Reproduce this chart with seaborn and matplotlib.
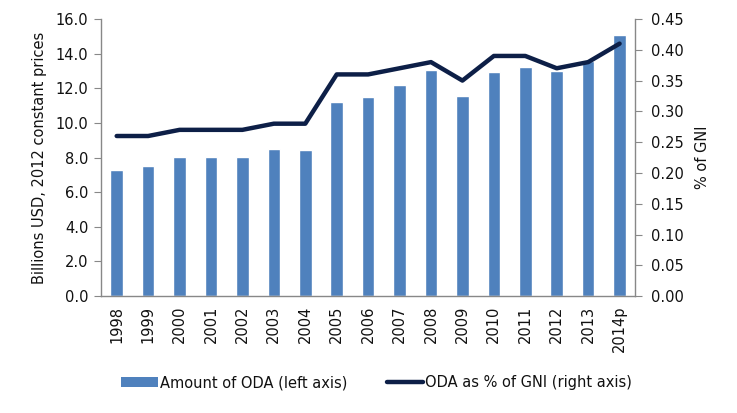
import numpy as np
import pandas as pd
import matplotlib
matplotlib.use("Agg")
import matplotlib.pyplot as plt
import seaborn as sns
from matplotlib.patches import Patch
from matplotlib.lines import Line2D

years = ["1998", "1999", "2000", "2001", "2002", "2003", "2004", "2005", "2006",
         "2007", "2008", "2009", "2010", "2011", "2012", "2013", "2014p"]
oda_amount = [7.28, 7.53, 8.03, 8.03, 8.03, 8.5, 8.44, 11.2, 11.5,
              12.2, 13.07, 11.56, 12.95, 13.24, 12.97, 13.55, 15.1]
oda_gni = [0.26, 0.26, 0.27, 0.27, 0.27, 0.28, 0.28, 0.36, 0.36,
           0.37, 0.38, 0.35, 0.39, 0.39, 0.37, 0.38, 0.41]
left_ticks = [0, 2, 4, 6, 8, 10, 12, 14, 16]
right_ticks = [0, 0.05, 0.10, 0.15, 0.20, 0.25, 0.30, 0.35, 0.40, 0.45]

bar_color = "#4F81BD"
line_color = "#0D1F47"
spine_color = "#888888"
text_color = "#111111"
fs = 10.5

sns.set_style("white")
plt.rcParams["font.family"] = ["DejaVu Sans"]
plt.rcParams["text.color"] = text_color
plt.rcParams["axes.labelcolor"] = text_color
plt.rcParams["xtick.labelcolor"] = text_color
plt.rcParams["ytick.labelcolor"] = text_color

df = pd.DataFrame({"year": years, "amount": oda_amount, "gni": oda_gni,
                   "pos": np.arange(len(years))})

fig = plt.figure(figsize=(7.37, 4.13), dpi=100)
ax = fig.add_axes([0.137, 0.283, 0.725, 0.671])
sns.barplot(data=df, x="year", y="amount", color=bar_color, saturation=1,
            width=0.4, ax=ax)
ax.set_ylim(0, 16)
ax.set_yticks(left_ticks)
ax.set_yticklabels([f"{v:.1f}" for v in left_ticks], fontsize=fs)
ax.set_xlim(-0.5, len(years) - 0.5)
ax.set_xticks(np.arange(len(years)))
ax.set_xticklabels(years, rotation=90, fontsize=fs)
ax.set_xticks(np.arange(len(years) + 1) - 0.5, minor=True)
ax.tick_params(axis="x", which="major", length=0, pad=7, labelcolor=text_color)
ax.tick_params(axis="x", which="minor", length=5, color=spine_color, direction="out")
ax.tick_params(axis="y", length=5, color=spine_color, direction="out", left=True, pad=4,
               labelcolor=text_color)
ax.set_xlabel("")
ax.set_ylabel("Billions USD, 2012 constant prices", fontsize=fs, labelpad=6,
              color=text_color)

ax2 = ax.twinx()
sns.lineplot(data=df, x="pos", y="gni", color=line_color, linewidth=3.2, ax=ax2)
ax2.set_ylim(0, 0.45)
ax2.set_yticks(right_ticks)
ax2.set_yticklabels([f"{v:.2f}" for v in right_ticks], fontsize=fs)
ax2.tick_params(axis="y", length=5, color=spine_color, direction="out", right=True, pad=6,
                labelcolor=text_color)
ax2.set_ylabel("% of GNI", fontsize=fs, labelpad=8, color=text_color)
ax2.set_xlim(-0.5, len(years) - 0.5)

for a in (ax, ax2):
    a.spines["top"].set_visible(False)
    for s in ("left", "right", "bottom"):
        a.spines[s].set_color(spine_color)
        a.spines[s].set_linewidth(1)
ax.spines["right"].set_visible(False)
ax2.spines["left"].set_visible(False)
ax2.spines["bottom"].set_visible(False)

handles = [Patch(facecolor=bar_color, edgecolor="none"),
           Line2D([0], [0], color=line_color, linewidth=3.2)]
labels = ["Amount of ODA (left axis)", "ODA as % of GNI (right axis)"]
fig.legend(handles, labels, loc="center", bbox_to_anchor=(0.511, 0.073), ncol=2,
           frameon=False, fontsize=fs, columnspacing=2.7, handlelength=2.5,
           handletextpad=0.15, labelcolor=text_color)

fig.savefig("out.png", dpi=100)
